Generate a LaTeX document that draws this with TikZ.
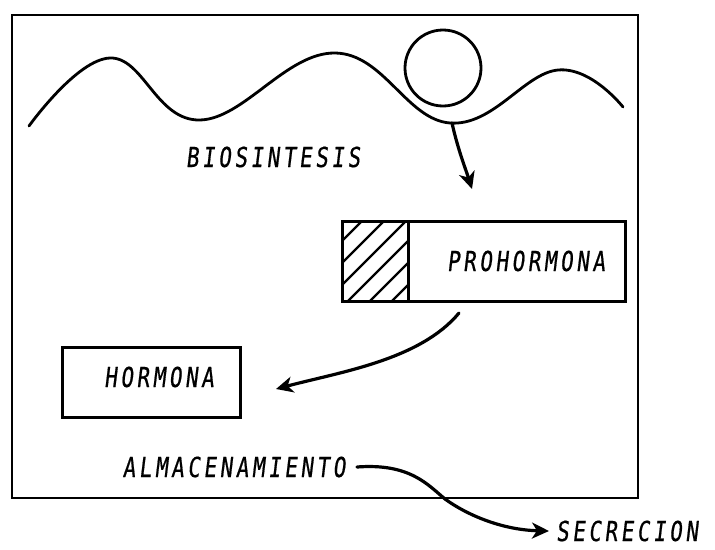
\documentclass[tikz,border=0pt]{standalone}
\usepackage{fontspec}
\usetikzlibrary{arrows.meta}
\newfontfamily\handfont[FakeSlant=0.12,FakeStretch=0.76,LetterSpace=13,FakeBold=0.6]{DejaVu Sans Mono}
\tikzset{
  lbl/.style={font=\handfont\fontsize{27.5}{29}\selectfont, inner sep=0pt, anchor=center, text height=20pt, text depth=0pt},
  boxline/.style={line width=3pt},
  frameline/.style={line width=2.2pt},
  waveline/.style={line width=2.8pt, line cap=round},
  arr/.style={line width=3.2pt, line cap=round, -{Stealth[length=17pt,width=16pt,inset=5pt]}},
}
\begin{document}
\begin{tikzpicture}[x=1pt,y=-1pt]
\useasboundingbox (0,0) rectangle (715,549);
% frame
\draw[frameline] (12,15) rectangle (638,498);
% wave
\draw[waveline] plot[smooth, tension=0.7] coordinates {(29,126) (110,58) (200,120) (335,53) (450,123) (558,70) (623,107)};
% circle
\draw[line width=2.8pt] (443,68) ellipse (38 and 38);
\coordinate (wv) at (452,123);
\coordinate (t1) at (472,189);
\node[lbl] (bio) at (273,157) {BIOSINTESIS};
% prohormona box
\node[draw, boxline, minimum width=283pt, minimum height=80pt, inner sep=0pt] (pro) at (483.5,261) {};
\begin{scope}
\clip (342,221) rectangle (408,301);
\foreach \k in {-60,-38,-16,6,28,50} {
  \draw[line width=2.4pt] (342+\k,301) -- (342+\k+80,221);
}
\end{scope}
\draw[boxline] (408,221) -- (408,301);
\node[lbl] (protxt) at (526,261) {PROHORMONA};
% hormona box
\node[draw, boxline, minimum width=178pt, minimum height=70pt, inner sep=0pt] (hor) at (151,382) {};
\node[lbl] (hortxt) at (159,377) {HORMONA};
\coordinate (s2) at (459,313);
\coordinate (t2) at (276,389);
\node[lbl] (alm) at (234,467) {ALMACENAMIENTO};
\node[lbl] (sec) at (627,531) {SECRECION};
\coordinate (s3) at (357,467);
\coordinate (m3) at (445,499);
\coordinate (t3) at (549,531);
% arrows
\draw[arr] (wv) .. controls (458,150) and (466,170) .. (t1);
\draw[arr] (s2) .. controls (420,360) and (340,372) .. (t2);
\draw[line width=3.2pt, line cap=round] (s3) .. controls (410,463) and (428,485) .. (m3);
\draw[arr] (m3) .. controls (470,517) and (505,530) .. (t3);
\end{tikzpicture}
\end{document}
